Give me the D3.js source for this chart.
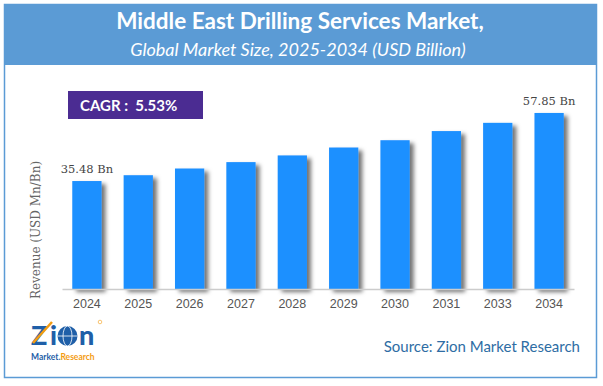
<!DOCTYPE html>
<html>
<head>
<meta charset="utf-8">
<script src="https://cdn.jsdelivr.net/npm/d3@7"></script>
<style>
  body { margin: 0; background: #fff; }
  svg { display: block; }
</style>
</head>
<body>
<div id="chart"></div>
<script>
// Data
const years = ['2024','2025','2026','2027','2028','2029','2030','2031','2033','2034'];
const revenue = [35.48, 37.4, 39.6, 41.7, 43.9, 46.5, 48.9, 51.9, 54.6, 57.85];
const valueLabels = ['35.48 Bn','','','','','','','','','57.85 Bn'];
const titleText = 'Middle East Drilling Services Market,';
const subtitleText = 'Global Market Size, 2025-2034 (USD Billion)';
const cagrText = 'CAGR :  5.53%';
const yTitle = 'Revenue (USD Mn/Bn)';
const sourceText = 'Source: Zion Market Research';

const W = 603, H = 386;
const sans = 'Lato, "Open Sans", sans-serif';
const logoBlue = '#1F5FA8', logoOrange = '#F39C12';

let svg = d3.select('#chart').append('svg')
    .attr('width', W)
    .attr('height', H);

let defs = svg.append('defs');
defs.append('filter').attr('id','shadow')
    .attr('x','-20%').attr('y','-10%').attr('width','160%').attr('height','130%')
    .append('feDropShadow')
    .attr('dx',4).attr('dy',3)
    .attr('stdDeviation',2)
    .attr('flood-color','#000')
    .attr('flood-opacity',0.55);

let grad = defs.append('linearGradient').attr('id','dashGrad')
    .attr('x1','0%').attr('x2','100%');
grad.append('stop').attr('offset','0%').attr('stop-color','#ED7D31');
grad.append('stop').attr('offset','100%').attr('stop-color','#F5C3A0');

// Frame + header
svg.append('rect')
    .attr('x',4.5).attr('y',4.5)
    .attr('width',592).attr('height',373)
    .attr('fill','#fff')
    .attr('stroke','#5B9BD5')
    .attr('stroke-width',1.5);

svg.append('rect')
    .attr('x',4).attr('y',4)
    .attr('width',593).attr('height',61)
    .attr('fill','#5B9BD5');

svg.append('text')
    .attr('x',300).attr('y',29)
    .attr('text-anchor','middle')
    .attr('fill','#fff')
    .style('font-family',sans)
    .style('font-weight','bold')
    .style('font-size','22.5px')
    .text(titleText);

svg.append('text')
    .attr('x',298).attr('y',56)
    .attr('text-anchor','middle')
    .attr('fill','#fff')
    .style('font-family',sans)
    .style('font-style','italic')
    .style('font-size','18px')
    .text(subtitleText);

svg.append('line')
    .attr('x1',37).attr('x2',578)
    .attr('y1',69.5).attr('y2',69.5)
    .attr('stroke','url(#dashGrad)')
    .attr('stroke-width',1.5)
    .attr('stroke-dasharray','4,2');

// CAGR box
svg.append('rect')
    .attr('x',68).attr('y',91)
    .attr('width',135).attr('height',28)
    .attr('fill','#4B2C92');

svg.append('text')
    .attr('x',80).attr('y',111)
    .attr('fill','#fff')
    .style('font-family',sans)
    .style('font-weight','bold')
    .style('font-size','15px')
    .style('white-space','pre')
    .text(cagrText);

// Scales
let x = d3.scaleBand()
    .domain(years)
    .range([62, 574])
    .paddingInner(0.43)
    .paddingOuter(0.2);

let y = d3.scaleLinear()
    .domain([0, 60])
    .range([289, 289 - 60 * 3.043]);

let g = svg.append('g');

g.selectAll('rect.bar')
    .data(revenue)
    .enter().append('rect')
    .attr('class','bar')
    .attr('x',(d,i)=>x(years[i]))
    .attr('y',d=>y(d))
    .attr('width',x.bandwidth())
    .attr('height',d=>y(0)-y(d))
    .attr('fill','#1E90FF')
    .attr('filter','url(#shadow)');

// Axis
let xAxis = svg.append('g')
    .attr('transform','translate(0,289)')
    .call(d3.axisBottom(x).tickSize(0).tickPadding(10));
xAxis.select('.domain').attr('stroke','#ccc').attr('stroke-width',1.5);
xAxis.selectAll('text')
    .attr('fill','#555')
    .style('font-family','"Liberation Sans", Arial, sans-serif')
    .style('font-size','12.5px');

// Value labels
g.selectAll('text.val')
    .data(revenue)
    .enter().append('text')
    .attr('class','val')
    .attr('x',(d,i)=>x(years[i]) + x.bandwidth()/2)
    .attr('y',d=>y(d) - 8)
    .attr('text-anchor','middle')
    .attr('fill','#444')
    .style('font-family','"DejaVu Serif", serif')
    .style('font-size','11.5px')
    .text((d,i)=>valueLabels[i]);

// Y title
svg.append('text')
    .attr('transform','translate(40,230) rotate(-90)')
    .attr('text-anchor','middle')
    .attr('fill','#666')
    .style('font-family','"DejaVu Serif", serif')
    .style('font-size','12px')
    .text(yTitle);

// Logo
let logo = svg.append('g');
let bigLetter = (txt, lx) => logo.append('text')
    .attr('x',lx).attr('y',345)
    .attr('fill',logoBlue)
    .style('font-family',sans)
    .style('font-weight','900')
    .style('font-size','27px')
    .text(txt);
bigLetter('Z',31);
bigLetter('i',50);
bigLetter('n',79);
logo.append('line')
    .attr('x1',33).attr('y1',343).attr('x2',52).attr('y2',322)
    .attr('stroke',logoOrange).attr('stroke-width',2.5);
// globe as the "o"
logo.append('circle')
    .attr('cx',67.5).attr('cy',336).attr('r',10)
    .attr('fill',logoBlue);
logo.append('ellipse')
    .attr('cx',67.5).attr('cy',336).attr('rx',4.5).attr('ry',10)
    .attr('fill','none').attr('stroke','#fff').attr('stroke-width',0.8);
logo.append('line')
    .attr('x1',57.5).attr('x2',77.5).attr('y1',336).attr('y2',336)
    .attr('stroke','#fff').attr('stroke-width',0.8);
logo.append('circle')
    .attr('cx',100).attr('cy',322).attr('r',1.8)
    .attr('fill','none').attr('stroke',logoOrange).attr('stroke-width',0.6);
let lt = logo.append('text')
    .attr('x',31).attr('y',360)
    .style('font-family',sans)
    .style('font-weight','bold')
    .style('font-size','8.5px');
lt.append('tspan').attr('fill',logoBlue).text('Market.');
lt.append('tspan').attr('fill',logoOrange).text('Research');

// Source
svg.append('text')
    .attr('x',580).attr('y',352)
    .attr('text-anchor','end')
    .attr('fill','#2E6DA4')
    .style('font-family',sans)
    .style('font-size','15px')
    .text(sourceText);
</script>
</body>
</html>
